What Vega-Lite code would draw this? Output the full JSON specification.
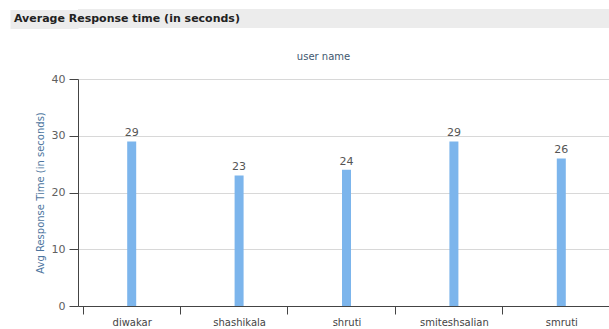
{
  "$schema": "https://vega.github.io/schema/vega-lite/v6.json",
  "padding": {"left": 0, "top": 9, "right": 0, "bottom": 0},
  "spacing": 23,
  "background": "white",
  "config": {"font": "DejaVu Sans", "view": {"stroke": null}},
  "vconcat": [
    {
      "width": 531,
      "height": 19,
      "view": {"fill": "#ececec", "stroke": null},
      "data": {"values": [{"heading": "Average Response time (in seconds)"}]},
      "mark": {"type": "text", "align": "left", "baseline": "middle", "fontWeight": "bold", "fontSize": 11, "color": "#222222", "dx": -64},
      "encoding": {
        "x": {"datum": 0, "type": "quantitative", "scale": {"domain": [0, 1]}, "axis": null},
        "y": {"datum": 0.5, "type": "quantitative", "scale": {"domain": [0, 1]},
          "axis": {"title": null, "values": [0.5], "labels": false, "domain": false, "grid": false, "tickSize": 68, "tickWidth": 19, "tickColor": "#ececec", "tickCap": "butt"}},
        "text": {"field": "heading"}
      }
    },
    {
      "width": 537,
      "height": 227,
      "title": {"text": "user name", "fontSize": 10, "fontWeight": "normal", "color": "#3e576f", "font": "DejaVu Sans", "dx": -23, "offset": 11},
      "data": {"values": [
        {"user": "diwakar", "avg": 29},
        {"user": "shashikala", "avg": 23},
        {"user": "shruti", "avg": 24},
        {"user": "smiteshsalian", "avg": 29},
        {"user": "smruti", "avg": 26}
      ]},
      "encoding": {
        "x": {"field": "user", "type": "nominal", "sort": null,
          "axis": {"title": null, "labelAngle": 0, "tickBand": "extent", "tickSize": 8, "tickColor": "#444444", "domainColor": "#444444", "labelColor": "#444444", "labelFontSize": 10, "labelPadding": 3, "grid": false}},
        "y": {"field": "avg", "type": "quantitative", "scale": {"domain": [0, 40]},
          "axis": {"title": "Avg Response Time (in seconds)", "titleColor": "#4d759e", "titleFontSize": 10, "titleFontWeight": "normal", "titlePadding": 6, "values": [0, 10, 20, 30, 40], "tickSize": 9, "tickColor": "#444444", "domainColor": "#444444", "labelColor": "#606060", "labelFontSize": 11, "labelPadding": 4, "gridColor": "#d8d8d8"}}
      },
      "layer": [
        {"mark": {"type": "bar", "size": 9, "color": "#7cb5ec"}},
        {"mark": {"type": "text", "baseline": "bottom", "dy": -3, "fontSize": 11, "color": "#555555"},
         "encoding": {"text": {"field": "avg", "type": "quantitative"}}}
      ]
    }
  ]
}
